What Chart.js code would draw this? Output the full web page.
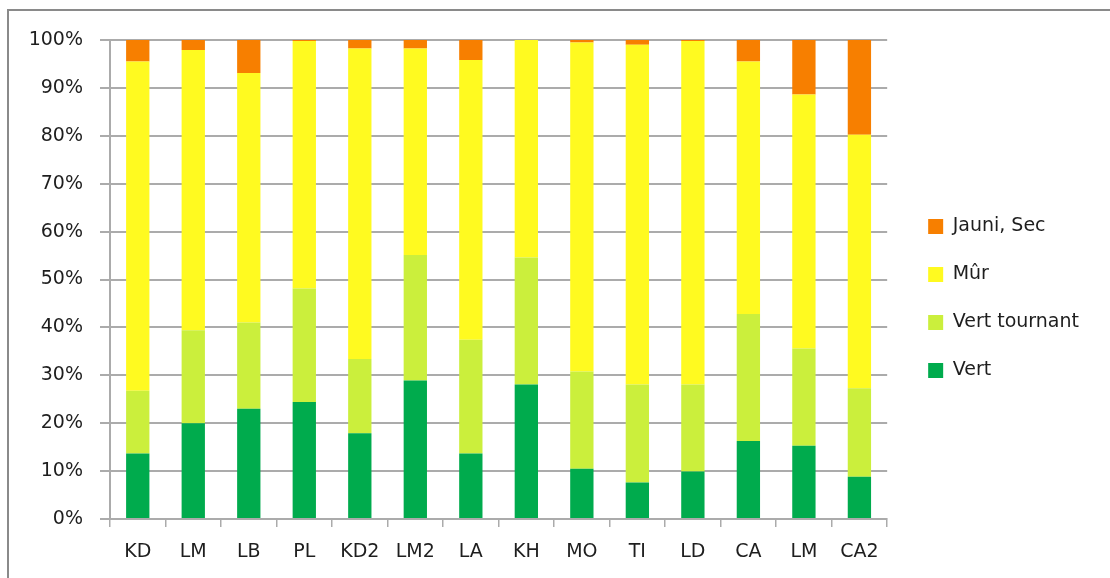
<!DOCTYPE html>
<html>
<head>
<meta charset="utf-8">
<script src="https://cdn.jsdelivr.net/npm/chart.js@4/dist/chart.umd.min.js"></script>
<style>
  html, body { margin: 0; padding: 0; background: #fff; }
  #wrap { position: relative; width: 1110px; height: 578px; overflow: hidden; }
  #frame { position: absolute; left: 7px; top: 9px; width: 1200px; height: 700px;
           border-top: 2px solid #8a8a8a; border-left: 2px solid #8a8a8a; }
  #maturite { position: absolute; left: 0; top: 0; }
</style>
</head>
<body>
<div id="wrap">
  <div id="frame"></div>
  <canvas id="maturite" width="1110" height="578"></canvas>
</div>
<script>
var categories = ['KD', 'LM', 'LB', 'PL', 'KD2', 'LM2', 'LA', 'KH', 'MO', 'TI', 'LD', 'CA', 'LM', 'CA2'];

// % of fruit per stage, per plot
var vert         = [13.7, 20.0, 23.0, 24.4, 17.9, 28.9, 13.7, 28.1, 10.5,  7.6,  9.9, 16.3, 15.3,  8.8];
var vertTournant = [13.1, 19.4, 18.0, 23.7, 15.5, 26.2, 23.7, 26.5, 20.3, 20.5, 18.2, 26.5, 20.3, 18.5];
var mur          = [68.7, 58.5, 52.1, 51.7, 64.8, 43.1, 58.4, 45.4, 68.7, 70.9, 71.7, 52.7, 53.0, 52.9];
var jauniSec     = [ 4.5,  2.1,  6.9,  0.2,  1.8,  1.8,  4.2,  0.0,  0.5,  1.0,  0.2,  4.5, 11.4, 19.8];

var yTicks = [0, 10, 20, 30, 40, 50, 60, 70, 80, 90, 100];

var txtColor = '#1e1e1e';
var gridColor = '#ababab';
var police = { family: 'DejaVu Sans', size: 19 };

new Chart(document.getElementById('maturite'), {
    type: 'bar',
    data: {
        labels: categories,
        datasets: [
            { label: 'Vert',          data: vert,         backgroundColor: '#00AB4D' },
            { label: 'Vert tournant', data: vertTournant, backgroundColor: '#CBEF3C' },
            { label: 'Mûr',           data: mur,          backgroundColor: '#FFFA20' },
            { label: 'Jauni, Sec',    data: jauniSec,     backgroundColor: '#F77F00' }
        ]
    },
    options: {
        responsive: false,
        animation: false,
        devicePixelRatio: 1,
        layout: { padding: { top: 40, left: 0, right: 31, bottom: 21 } },
        datasets: { bar: { categoryPercentage: 1, barPercentage: 0.42, borderWidth: 0 } },
        plugins: {
            tooltip: { enabled: false },
            legend: {
                position: 'right',
                reverse: true,
                labels: { boxWidth: 15, boxHeight: 15, padding: 29, color: txtColor, font: police }
            }
        },
        scales: {
            x: {
                stacked: true,
                grid: { drawOnChartArea: false, drawTicks: true, tickLength: 8, color: gridColor, lineWidth: 1.5 },
                border: { color: gridColor, width: 2 },
                ticks: { color: txtColor, font: police, padding: 14, maxRotation: 0, autoSkip: false },
                afterFit: function(s) { s.height = 38; }
            },
            y: {
                stacked: true,
                min: 0,
                max: 100,
                afterBuildTicks: function(s) { s.ticks = yTicks.map(function(v) { return { value: v }; }); },
                grid: { color: gridColor, lineWidth: 2, tickLength: 10 },
                border: { color: gridColor, width: 2 },
                ticks: { color: txtColor, font: police, padding: 17, callback: function(v) { return v + '%'; } },
                afterFit: function(s) { s.width = 110; }
            },
            // empty spacer between plot and legend
            gap: {
                type: 'linear',
                position: 'right',
                display: true,
                grid: { display: false },
                border: { display: false },
                ticks: { display: false },
                afterFit: function(s) { s.width = 12; }
            }
        }
    }
});
</script>
</body>
</html>
